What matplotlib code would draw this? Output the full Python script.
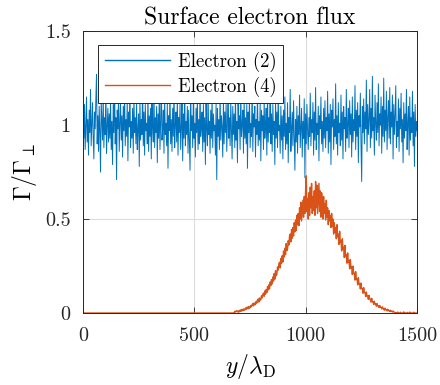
import numpy as np
import matplotlib
matplotlib.use("Agg")
import matplotlib.pyplot as plt

plt.rcParams['font.family'] = ['cmr10', 'DejaVu Serif']
plt.rcParams['mathtext.fontset'] = 'cm'
plt.rcParams['axes.formatter.use_mathtext'] = True

# Electron (2): flux sampled every 3 lambda_D from 0 to 1500
electron2 = [
    1.06, 0.93, 1.11, 0.87, 0.99, 1.15, 0.91, 1.03, 0.84, 1.08, 0.96, 1.19, 0.89, 1.01, 1.12, 0.94, 0.82, 1.07, 0.98, 1.14,
    1.27, 0.90, 1.05, 0.86, 1.10, 0.97, 0.75, 1.13, 1.02, 0.92, 1.17, 0.88, 1.04, 0.95, 1.21, 0.85, 0.99, 1.09, 0.91, 1.06,
    0.93, 1.14, 0.87, 1.02, 0.79, 1.11, 0.96, 1.23, 0.90, 1.04, 0.71, 1.08, 0.98, 1.16, 0.86, 1.01, 1.12, 0.92, 1.05, 0.83,
    1.10, 0.97, 1.18, 0.89, 1.03, 0.94, 1.13, 0.81, 1.07, 0.99, 1.20, 0.88, 1.02, 0.93, 1.09, 0.85, 1.15, 0.96, 1.04, 0.90,
    1.12, 0.87, 0.98, 1.06, 0.78, 1.14, 0.92, 1.03, 0.95, 1.22, 0.89, 1.07, 0.84, 1.11, 0.97, 1.01, 0.90, 1.17, 0.86, 1.05,
    0.94, 1.09, 0.82, 1.13, 0.99, 0.91, 1.19, 0.88, 1.04, 0.96, 1.10, 0.80, 1.06, 0.93, 1.16, 0.87, 1.02, 1.25, 0.92, 0.98,
    1.08, 0.85, 1.14, 0.95, 1.01, 0.89, 1.12, 0.77, 1.05, 0.97, 1.18, 0.90, 1.03, 0.86, 1.09, 0.94, 1.21, 0.88, 1.00, 1.07,
    0.91, 1.15, 0.84, 1.04, 0.96, 1.11, 0.87, 0.99, 1.13, 0.81, 1.06, 0.93, 1.19, 0.89, 1.02, 0.95, 1.10, 0.85, 1.08, 0.92,
    0.76, 1.12, 0.97, 1.05, 0.88, 1.16, 0.93, 1.01, 0.83, 1.09, 0.96, 1.14, 0.87, 1.03, 0.90, 1.20, 0.94, 0.99, 1.07, 0.86,
    1.11, 0.91, 1.04, 0.79, 1.13, 0.98, 0.89, 1.17, 0.95, 1.02, 0.85, 1.08, 0.93, 1.15, 0.88, 1.06, 0.97, 1.00, 0.84, 1.12,
    0.71, 1.09, 0.94, 1.03, 0.87, 1.18, 0.92, 1.05, 0.99, 0.83, 1.14, 0.90, 1.07, 0.96, 1.11, 0.86, 1.01, 1.23, 0.93, 1.04,
    0.89, 1.13, 0.97, 0.82, 1.10, 0.95, 1.06, 0.88, 1.16, 0.92, 1.02, 0.80, 1.12, 0.98, 1.05, 0.87, 1.19, 0.94, 1.00, 1.08,
    0.85, 1.14, 0.93, 1.04, 0.90, 1.11, 0.77, 1.07, 0.96, 1.15, 0.88, 1.01, 0.94, 1.21, 0.86, 1.06, 0.99, 1.10, 0.83, 1.03,
    0.95, 1.17, 0.89, 1.02, 0.92, 1.12, 0.81, 1.08, 0.97, 1.05, 0.87, 1.14, 0.93, 0.99, 1.09, 0.84, 1.18, 0.91, 1.04, 0.96,
    1.29, 0.90, 1.06, 0.86, 1.11, 0.95, 1.02, 0.79, 1.13, 0.93, 1.07, 0.88, 1.16, 0.97, 1.00, 0.85, 1.10, 0.92, 1.05, 0.82,
    1.08, 0.94, 1.15, 0.87, 1.01, 0.90, 1.12, 0.80, 1.04, 0.96, 1.19, 0.86, 0.98, 1.07, 0.89, 1.13, 0.93, 0.76, 1.03, 0.91,
    1.10, 0.85, 1.05, 0.95, 1.16, 0.88, 0.99, 1.09, 0.83, 1.02, 0.93, 1.14, 0.72, 1.06, 0.90, 1.11, 0.97, 0.87, 1.04, 0.94,
    1.17, 0.89, 1.03, 0.96, 1.12, 0.84, 1.07, 0.92, 1.20, 0.87, 1.01, 0.95, 1.10, 0.81, 1.05, 0.98, 1.15, 0.90, 1.02, 0.86,
    1.09, 0.93, 1.13, 0.88, 1.04, 0.97, 1.18, 0.85, 1.06, 0.91, 1.11, 0.79, 1.08, 0.99, 1.14, 0.87, 1.03, 0.94, 1.22, 0.90,
    1.05, 0.84, 1.12, 0.96, 1.01, 0.89, 1.16, 0.92, 1.07, 0.82, 1.10, 0.98, 1.04, 0.86, 1.19, 0.93, 1.00, 1.09, 0.88, 1.13,
    0.95, 1.06, 0.83, 1.15, 0.91, 1.03, 0.97, 1.21, 0.87, 1.08, 0.94, 1.12, 0.80, 1.05, 0.99, 1.17, 0.89, 0.70, 1.10, 0.96,
    1.14, 0.90, 1.07, 0.98, 1.24, 0.86, 1.11, 0.95, 1.03, 1.19, 0.88, 1.09, 0.93, 1.26, 0.97, 1.04, 0.84, 1.16, 1.01, 0.92,
    1.12, 0.96, 1.22, 0.89, 1.06, 1.00, 1.15, 0.85, 1.10, 0.94, 1.25, 0.91, 1.08, 0.97, 1.18, 0.87, 1.04, 1.13, 0.93, 1.20,
    0.90, 1.07, 0.99, 1.16, 0.82, 1.11, 0.95, 1.05, 1.21, 0.88, 1.02, 0.94, 1.14, 0.86, 1.09, 0.98, 1.17, 0.91, 1.03, 0.80,
    1.12, 0.93, 1.06, 0.97, 1.19, 0.87, 1.01, 1.10, 0.84, 1.15, 0.92, 1.04, 0.96, 1.18, 0.89, 1.07, 0.78, 1.11, 0.94, 1.02,
    0.97,
]

# Electron (4): zero up to ~675, a noisy bump from 678 to 1398, then ~zero again
electron4_before = [0.0] * 226
electron4_bump = [
    0.003, 0.009, 0.005, 0.011, 0.012, 0.006, 0.010, 0.004, 0.014, 0.008, 0.017, 0.010,
    0.019, 0.012, 0.022, 0.015, 0.016, 0.027, 0.019, 0.030, 0.031, 0.022, 0.035, 0.026,
    0.028, 0.040, 0.033, 0.045, 0.050, 0.038, 0.054, 0.044, 0.046, 0.062, 0.053, 0.069,
    0.074, 0.058, 0.080, 0.068, 0.071, 0.092, 0.080, 0.099, 0.106, 0.089, 0.118, 0.100,
    0.125, 0.108, 0.140, 0.122, 0.150, 0.128, 0.165, 0.146, 0.178, 0.155, 0.192, 0.170,
    0.210, 0.180, 0.225, 0.198, 0.205, 0.245, 0.228, 0.262, 0.270, 0.240, 0.290, 0.265,
    0.305, 0.272, 0.330, 0.298, 0.345, 0.310, 0.370, 0.332, 0.340, 0.385, 0.362, 0.410,
    0.420, 0.378, 0.445, 0.398, 0.455, 0.410, 0.480, 0.432, 0.495, 0.440, 0.520, 0.470,
    0.530, 0.465, 0.560, 0.500, 0.590, 0.490, 0.545, 0.600, 0.510, 0.620, 0.530, 0.650,
    0.730, 0.540, 0.610, 0.500, 0.640, 0.520, 0.670, 0.560, 0.690, 0.530, 0.620, 0.545,
    0.650, 0.520, 0.700, 0.560, 0.680, 0.530, 0.610, 0.690, 0.540, 0.650, 0.510, 0.640,
    0.600, 0.500, 0.620, 0.530, 0.580, 0.495, 0.600, 0.510, 0.560, 0.470, 0.545, 0.490,
    0.520, 0.455, 0.530, 0.460, 0.500, 0.420, 0.480, 0.430, 0.455, 0.395, 0.470, 0.405,
    0.420, 0.365, 0.435, 0.375, 0.385, 0.330, 0.395, 0.340, 0.350, 0.295, 0.360, 0.300,
    0.310, 0.265, 0.320, 0.270, 0.280, 0.235, 0.285, 0.240, 0.245, 0.205, 0.250, 0.210,
    0.212, 0.175, 0.220, 0.180, 0.180, 0.150, 0.188, 0.155, 0.155, 0.128, 0.160, 0.130,
    0.130, 0.105, 0.135, 0.110, 0.108, 0.088, 0.112, 0.090, 0.090, 0.072, 0.094, 0.075,
    0.074, 0.058, 0.078, 0.060, 0.060, 0.046, 0.062, 0.048, 0.048, 0.036, 0.050, 0.038,
    0.038, 0.029, 0.040, 0.030, 0.030, 0.022, 0.033, 0.023, 0.024, 0.015, 0.026, 0.017,
    0.018, 0.011, 0.020, 0.012, 0.014, 0.008, 0.015, 0.009, 0.010, 0.005, 0.011, 0.006,
    0.004,
]
electron4_after = [
    0.0, 0.003, 0.0, 0.0, 0.005, 0.0, 0.0, 0.0, 0.004, 0.0, 0.0, 0.0,
    0.0, 0.006, 0.0, 0.0, 0.0, 0.0, 0.003, 0.0, 0.0, 0.0, 0.005, 0.0,
    0.0, 0.0, 0.0, 0.0, 0.004, 0.0, 0.0, 0.0, 0.0, 0.0,
]
electron4 = electron4_before + electron4_bump + electron4_after

y_pos = np.linspace(0, 1500, len(electron2))

fig = plt.figure(figsize=(4.4, 3.85), dpi=100)
ax = fig.add_axes([0.189, 0.187, 0.759, 0.732])

ax.plot(y_pos, electron2, color='#0072BD', lw=0.7, label='Electron (2)')
ax.plot(y_pos, electron4, color='#D95319', lw=1.0, label='Electron (4)')

ax.set_xlim(0, 1500)
ax.set_ylim(0, 1.5)
ax.set_xticks([0, 500, 1000, 1500])
ax.set_xticklabels(['0', '500', '1000', '1500'])
ax.set_yticks([0, 0.5, 1, 1.5])
ax.set_yticklabels(['0', '0.5', '1', '1.5'])
ax.tick_params(direction='in', top=True, right=True, length=4, width=0.6,
               labelsize=14.5, colors='#262626')
ax.tick_params(axis='x', pad=10)
ax.tick_params(axis='y', pad=9)
ax.grid(True, color='#dcdcdc', lw=0.8)
ax.set_axisbelow(True)
for sp in ax.spines.values():
    sp.set_color('#262626')
    sp.set_linewidth(0.7)

ax.set_title('Surface electron flux', fontsize=17, pad=5)
ax.set_xlabel(r'$y/\lambda_\mathrm{D}$', fontsize=17, labelpad=5)
ax.set_ylabel(r'$\Gamma/\Gamma_\perp$', fontsize=17, labelpad=4)

leg = ax.legend(loc='upper left', bbox_to_anchor=(0.045, 0.95), borderaxespad=0,
                fontsize=13.5, handlelength=3.5, handletextpad=0.4, fancybox=False,
                framealpha=1, edgecolor='#262626', borderpad=0.35, labelspacing=0.25)
leg.get_frame().set_linewidth(0.7)
for line in leg.get_lines():
    line.set_linewidth(1.0)

fig.savefig('out.png', dpi=100)
